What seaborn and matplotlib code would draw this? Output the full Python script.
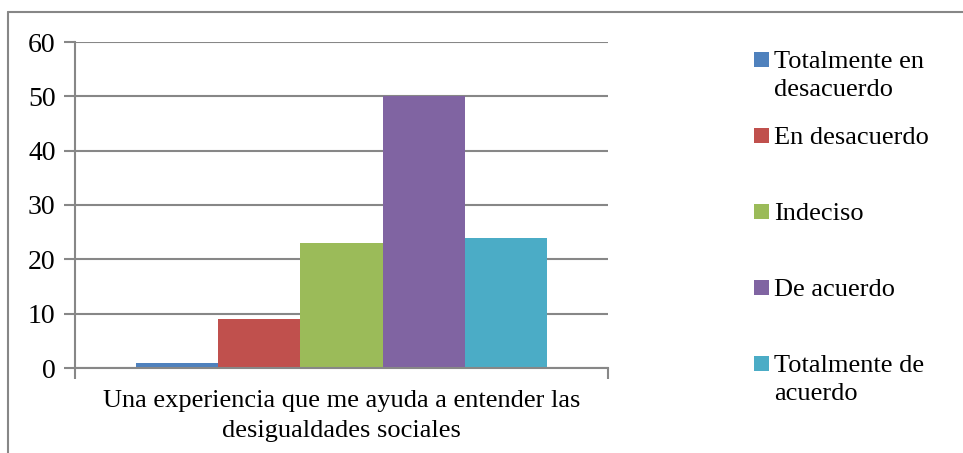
import matplotlib
matplotlib.use("Agg")
import matplotlib.pyplot as plt
from matplotlib.patches import Rectangle
from matplotlib.lines import Line2D
import seaborn as sns
import pandas as pd

# datos
pregunta = "Una experiencia que me ayuda a entender las\ndesigualdades sociales"
respuestas = ["Totalmente en\ndesacuerdo", "En desacuerdo", "Indeciso", "De acuerdo", "Totalmente de\nacuerdo"]
valores = [1, 9, 23, 50, 24]
colores = ["#4F81BD", "#C0504D", "#9BBB59", "#8064A2", "#4BACC6"]

df = pd.DataFrame({"Pregunta": [pregunta] * len(valores), "Respuesta": respuestas, "Valor": valores})

sns.set_theme(style="white")
plt.rcParams["font.family"] = "serif"
plt.rcParams["font.serif"] = ["Liberation Serif", "Times New Roman", "DejaVu Serif"]

W, H = 963, 453
fig = plt.figure(figsize=(W / 100, H / 100), dpi=100)
ax = fig.add_axes([75 / W, 1 - 368 / H, (608 - 75) / W, (368 - 42) / H])

sns.barplot(data=df, x="Pregunta", y="Valor", hue="Respuesta", hue_order=respuestas,
            palette=colores, width=0.77, gap=0, saturation=1, legend=False, ax=ax)
for p in ax.patches:
    p.set_edgecolor("none")

gris = "#878787"
ax.set_xlim(-0.5, 0.5)
ax.set_ylim(0, 60)
ax.set_yticks(range(0, 61, 10))
ax.yaxis.grid(True, color=gris, linewidth=1.5)
ax.set_axisbelow(True)
ax.set_xlabel("")
ax.set_ylabel("")
for s in ["top", "right"]:
    ax.spines[s].set_visible(False)
for s in ["left", "bottom"]:
    ax.spines[s].set_color(gris)
    ax.spines[s].set_linewidth(1.5)
ax.tick_params(axis="y", which="major", length=8, width=1.5, color=gris, left=True,
               labelsize=20, pad=6, labelcolor="black")
ax.tick_params(axis="x", which="major", length=0, labelsize=19, pad=16, labelcolor="black")
ax.set_xticks([-0.5, 0.5], minor=True)
ax.tick_params(axis="x", which="minor", length=8, width=1.5, color=gris, bottom=True)
for t in ax.get_xticklabels():
    t.set_linespacing(1.45)

# borde exterior del grafico (solo izquierda y arriba visibles)
fig.add_artist(Line2D([8 / W, 8 / W], [0, 1 - 12 / H], transform=fig.transFigure, color=gris, lw=1.5))
fig.add_artist(Line2D([8 / W, 1], [1 - 12 / H, 1 - 12 / H], transform=fig.transFigure, color=gris, lw=1.5))

# leyenda a la derecha
y_leyenda = [60, 136, 212, 288, 364]
for lab, col, yc in zip(respuestas, colores, y_leyenda):
    fig.add_artist(Rectangle((754 / W, 1 - (yc + 7) / H), 15 / W, 15 / H,
                             transform=fig.transFigure, color=col, lw=0))
    fig.text(774 / W, 1 - (yc - 9) / H, lab, fontsize=19, va="top", ha="left",
             linespacing=1.35, color="black")

fig.savefig("out.png", dpi=100)
